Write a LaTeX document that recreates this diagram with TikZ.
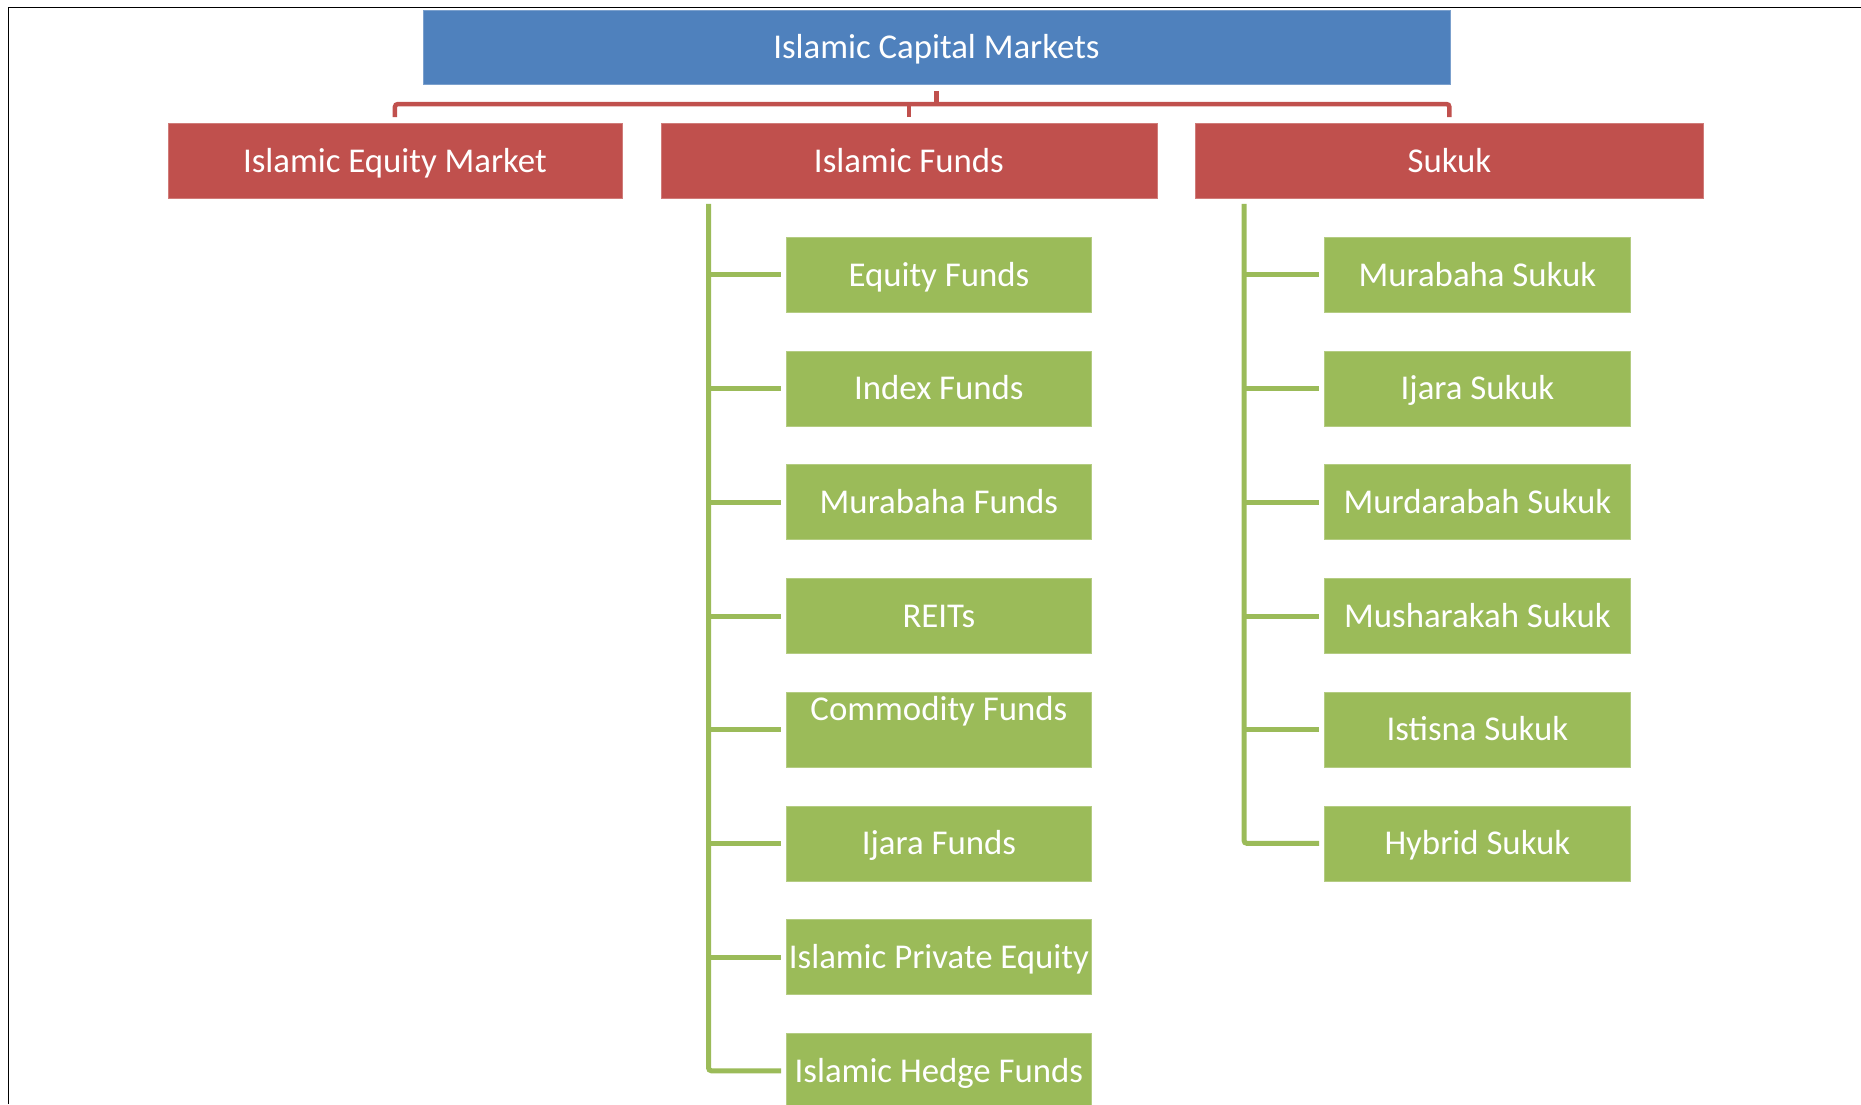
\documentclass[tikz,border=0pt]{standalone}
\usepackage{fontspec}
\setmainfont{Carlito}
\definecolor{icmblue}{HTML}{4F81BD}
\definecolor{icmred}{HTML}{C0504D}
\definecolor{icmgreen}{HTML}{9BBB59}
\begin{document}
\begin{tikzpicture}[x=1pt,y=-1pt,
  box/.style={anchor=north west, inner sep=0pt, text=white,
    font=\fontsize{34.8}{41}\selectfont, text height=22.4pt, text depth=0pt,
    line width=0.8pt},
  topbox/.style={box, fill=icmblue, draw=icmblue!75!white,
    minimum width=1027pt, minimum height=74pt},
  catbox/.style={box, fill=icmred, draw=icmred!75!white, minimum height=75pt},
  leafbox/.style={box, fill=icmgreen, draw=icmgreen!75!white, minimum height=75pt},
  fundbox/.style={leafbox, minimum width=305pt},
  sukukbox/.style={leafbox, minimum width=306pt},
  redline/.style={draw=icmred, line width=4.5pt},
  greenline/.style={draw=icmgreen, line width=5pt},
]
\useasboundingbox (0,0) rectangle (1861,1104);
\clip (0,0) rectangle (1861,1104);

% frame lines
\draw[line width=1.6pt] (8.3,1104) -- (8.3,7.3) -- (1861,7.3);

% root and categories
\node[topbox] (icm) at (422.5,10) {Islamic Capital Markets};
\node[catbox, minimum width=454pt] (equity) at (167.5,123) {Islamic Equity Market};
\node[catbox, minimum width=496pt] (funds) at (660.5,123) {Islamic Funds};
\node[catbox, minimum width=508pt] (sukuk) at (1195,123) {Sukuk};

% fund types
\node[fundbox] (f1) at (786,237)   {Equity Funds};
\node[fundbox] (f2) at (786,350.7) {Index Funds};
\node[fundbox] (f3) at (786,464.4) {Murabaha Funds};
\node[fundbox] (f4) at (786,578.1) {REITs};
\node[fundbox, text depth=40pt] (f5) at (786,691.8) {Commodity Funds};
\node[fundbox] (f6) at (786,805.5) {Ijara Funds};
\node[fundbox] (f7) at (786,919.2) {Islamic Private Equity};
\node[fundbox] (f8) at (786,1032.9) {Islamic Hedge Funds};

% sukuk types
\node[sukukbox] (s1) at (1324,237)   {Murabaha Sukuk};
\node[sukukbox] (s2) at (1324,350.7) {Ijara Sukuk};
\node[sukukbox] (s3) at (1324,464.4) {Murdarabah Sukuk};
\node[sukukbox] (s4) at (1324,578.1) {Musharakah Sukuk};
\node[sukukbox] (s5) at (1324,691.8) {Istisna Sukuk};
\node[sukukbox] (s6) at (1324,805.5) {Hybrid Sukuk};

% root connectors
\coordinate (bar) at ([yshift=19pt]funds.north);
\draw[redline, rounded corners=3pt] ([yshift=6pt]equity.north) -- (bar -| equity.north)
  -- (bar -| sukuk.north) -- ([yshift=6pt]sukuk.north);
\draw[redline] ([yshift=6pt]funds.north) -- (bar);
\draw[redline] ([yshift=-6pt]icm.south) -- (bar -| icm.south);

% fund branch
\coordinate (fstem) at ([xshift=48pt,yshift=-5pt]funds.south west);
\draw[greenline, rounded corners=3pt] (fstem) |- ([xshift=-5pt]f8.west);
\foreach \n in {f1,f2,f3,f4,f5,f6,f7}
  \draw[greenline] (fstem |- \n.west) -- ([xshift=-5pt]\n.west);

% sukuk branch
\coordinate (sstem) at ([xshift=49pt,yshift=-5pt]sukuk.south west);
\draw[greenline, rounded corners=3pt] (sstem) |- ([xshift=-5pt]s6.west);
\foreach \n in {s1,s2,s3,s4,s5}
  \draw[greenline] (sstem |- \n.west) -- ([xshift=-5pt]\n.west);
\end{tikzpicture}
\end{document}
